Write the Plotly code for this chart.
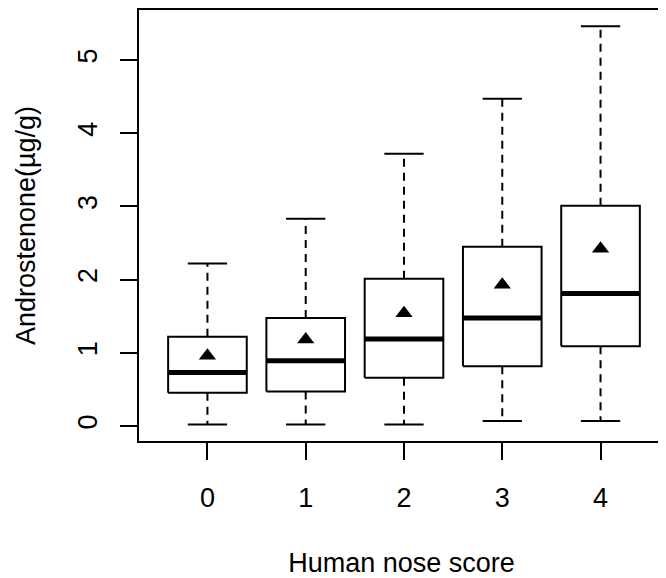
import plotly.graph_objects as go

# ---- data ----
scores = ["0", "1", "2", "3", "4"]
lower_whisker = [0.02, 0.02, 0.02, 0.07, 0.07]
q1 = [0.455, 0.47, 0.66, 0.815, 1.09]
median = [0.73, 0.89, 1.19, 1.475, 1.81]
q3 = [1.22, 1.475, 2.01, 2.45, 3.01]
upper_whisker = [2.22, 2.83, 3.72, 4.47, 5.46]
mean = [0.96, 1.18, 1.54, 1.93, 2.42]
y_ticks = [0, 1, 2, 3, 4, 5]

BOX_HALF = 0.4     # boxwex 0.8
CAP_HALF = 0.2     # staplewex 0.5
FONT = dict(family="Liberation Sans, Arial, sans-serif", size=27, color="#000000")

pos = list(range(len(scores)))

# whiskers (dashed)
wx, wy = [], []
for i, p in enumerate(pos):
    wx += [p, p, None, p, p, None]
    wy += [q3[i], upper_whisker[i], None, q1[i], lower_whisker[i], None]

# staples
cx, cy = [], []
for i, p in enumerate(pos):
    cx += [p - CAP_HALF, p + CAP_HALF, None, p - CAP_HALF, p + CAP_HALF, None]
    cy += [upper_whisker[i], upper_whisker[i], None, lower_whisker[i], lower_whisker[i], None]

# boxes
bx, by = [], []
for i, p in enumerate(pos):
    bx += [p - BOX_HALF, p + BOX_HALF, p + BOX_HALF, p - BOX_HALF, p - BOX_HALF, None]
    by += [q1[i], q1[i], q3[i], q3[i], q1[i], None]

# medians
mx, my = [], []
for i, p in enumerate(pos):
    mx += [p - BOX_HALF, p + BOX_HALF, None]
    my += [median[i], median[i], None]

fig = go.Figure()
fig.add_trace(go.Scatter(x=wx, y=wy, mode="lines",
                         line=dict(color="black", width=2, dash="8px,6px"),
                         hoverinfo="skip", showlegend=False))
fig.add_trace(go.Scatter(x=cx, y=cy, mode="lines",
                         line=dict(color="black", width=2),
                         hoverinfo="skip", showlegend=False))
fig.add_trace(go.Scatter(x=bx, y=by, mode="lines",
                         line=dict(color="black", width=2),
                         hoverinfo="skip", showlegend=False))
fig.add_trace(go.Scatter(x=mx, y=my, mode="lines",
                         line=dict(color="black", width=5),
                         hoverinfo="skip", showlegend=False))
fig.add_trace(go.Scatter(x=pos, y=mean, mode="markers",
                         marker=dict(symbol="triangle-up", size=15, color="black"),
                         name="mean", showlegend=False))

axis_common = dict(showgrid=False, zeroline=False, showline=True, linewidth=2,
                   linecolor="black", mirror=True, ticks="outside", ticklen=17,
                   tickwidth=2, tickcolor="black", tickfont=FONT)

# page body has an 8px margin, so the figure is 8px smaller than the window
fig.update_layout(
    width=658, height=570,
    margin=dict(l=131, r=0, t=2, b=137),
    paper_bgcolor="white", plot_bgcolor="white",
    font=FONT,
    xaxis=dict(range=[-0.6964, 4.6457], tickvals=pos, ticktext=scores,
               title=dict(text="Human nose score", font=FONT, standoff=43),
               ticklabelstandoff=15, **axis_common),
    yaxis=dict(range=[-0.2049, 5.683], tickvals=y_ticks,
               ticktext=[str(t) for t in y_ticks], tickangle=-90,
               title=dict(text="Androstenone(µg/g)", font=FONT, standoff=30),
               ticklabelstandoff=12, **axis_common),
)

fig.write_html("out.html")
